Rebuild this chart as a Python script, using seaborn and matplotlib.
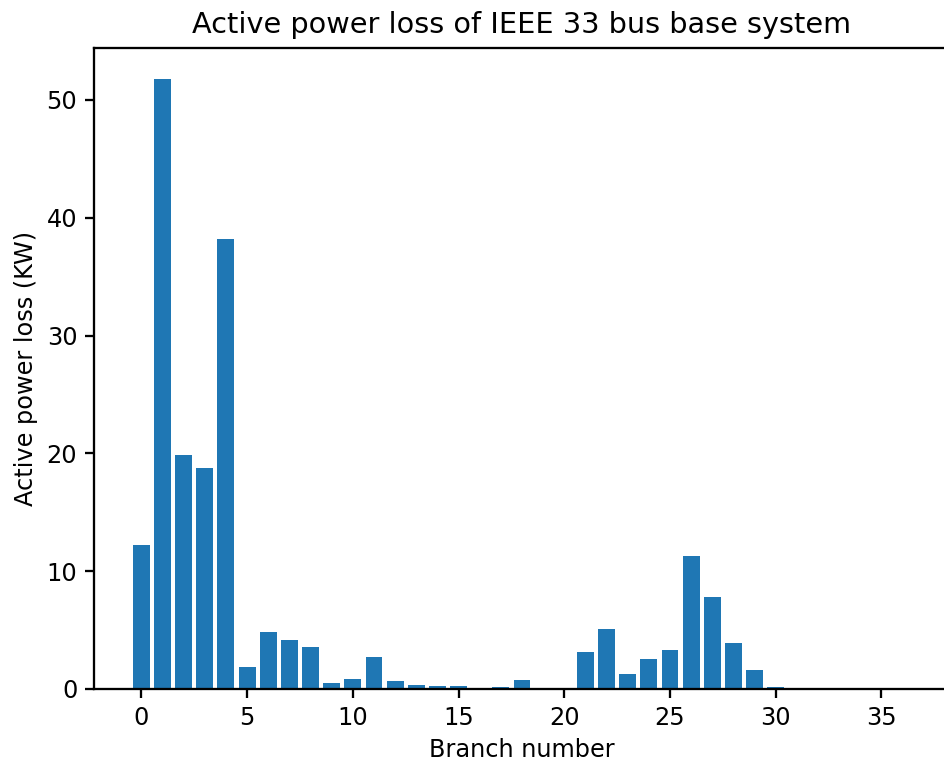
import numpy as np
import pandas as pd
import matplotlib
matplotlib.use("Agg")
import matplotlib.pyplot as plt
import seaborn as sns

branch = list(range(37))
loss = [12.22, 51.78, 19.88, 18.76, 38.22, 1.88, 4.84, 4.16, 3.57, 0.51,
        0.85, 2.72, 0.70, 0.36, 0.25, 0.25, 0.03, 0.17, 0.80, 0.11,
        0.02, 3.14, 5.09, 1.30, 2.57, 3.31, 11.30, 7.83, 3.90, 1.58,
        0.20, 0.0, 0.0, 0.0, 0.0, 0.0, 0.0]

title = "Active power loss of IEEE 33 bus base system"
xlabel = "Branch number"
ylabel = "Active power loss (KW)"

df = pd.DataFrame({"branch": branch, "loss": loss})

W, H, DPI = 944, 766, 150
fs = 11.5
fig = plt.figure(figsize=(W / DPI, H / DPI), dpi=DPI)
ax = fig.add_axes([94 / W, (H - 689) / H, (950 - 94) / W, (689 - 48) / H])

sns.barplot(data=df, x="branch", y="loss", native_scale=True, color="#1f77b4",
            saturation=1, width=0.8, ax=ax, errorbar=None)

ax.set_xlim(-2.24, 38.24)
ax.set_ylim(0, 54.4)
ax.set_xticks([0, 5, 10, 15, 20, 25, 30, 35])
ax.set_yticks([0, 10, 20, 30, 40, 50])
ax.tick_params(labelsize=fs, width=1.1, length=4.5)
for s in ax.spines.values():
    s.set_linewidth(1.1)
ax.set_title(title, fontsize=13.8, pad=7)
ax.set_xlabel(xlabel, fontsize=fs)
ax.set_ylabel(ylabel, fontsize=fs)

fig.savefig("out.png", dpi=DPI)
